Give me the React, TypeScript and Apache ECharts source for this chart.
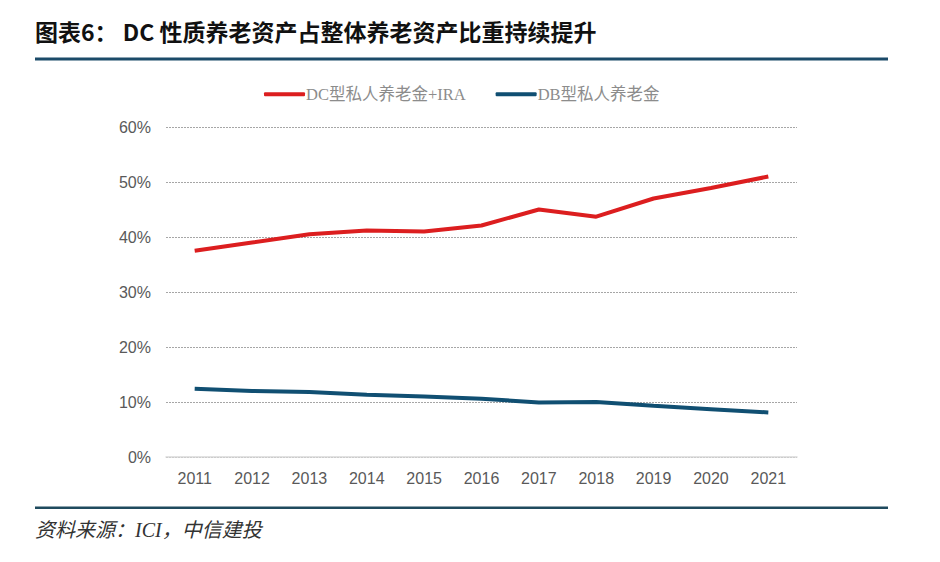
import React, { useEffect, useRef } from "react";
import * as echarts from "echarts";

const years = ["2011", "2012", "2013", "2014", "2015", "2016", "2017", "2018", "2019", "2020", "2021"];
const dcSeriesName = "DC型私人养老金+IRA";
const dbSeriesName = "DB型私人养老金";
const dcValues = [37.5, 39.0, 40.5, 41.2, 41.0, 42.1, 45.0, 43.7, 47.0, 48.9, 51.0];
const dbValues = [12.4, 12.0, 11.8, 11.3, 11.0, 10.6, 9.9, 10.0, 9.3, 8.7, 8.1];
const titleText = "图表6： DC 性质养老资产占整体养老资产比重持续提升";
const sourceText = "资料来源：ICI，中信建投";

export default function App() {
  const ref = useRef<HTMLDivElement>(null);
  useEffect(() => {
    if (!ref.current) return;
    const chart = echarts.init(ref.current, undefined, { renderer: "svg" });
    chart.setOption({
      animation: false,
      backgroundColor: "#ffffff",
      grid: { left: 166, right: 143, top: 127, bottom: 105, containLabel: false },
      legend: {
        left: 259,
        top: 81,
        icon: "roundRect",
        itemWidth: 41,
        itemHeight: 4,
        itemGap: 30,
        textStyle: {
          color: "#8c8c8c",
          fontSize: 16.5,
          fontFamily: "'Liberation Serif', 'Noto Sans CJK SC', serif",
          padding: [0, 0, 0, -4],
        },
        data: [dcSeriesName, dbSeriesName],
      },
      xAxis: {
        type: "category",
        data: years,
        boundaryGap: true,
        axisLine: { show: true, lineStyle: { color: "#d9d9d9", width: 1.5 } },
        axisTick: { show: false },
        axisLabel: {
          color: "#595959",
          fontSize: 16,
          fontFamily: "'Liberation Sans', Arial, sans-serif",
          margin: 13,
        },
      },
      yAxis: {
        type: "value",
        min: 0,
        max: 60,
        interval: 10,
        axisLine: { show: false },
        axisTick: { show: false },
        splitLine: { lineStyle: { color: "#a6a6a6", width: 1, type: [2, 1] } },
        axisLabel: {
          formatter: "{value}%",
          color: "#595959",
          fontSize: 16,
          fontFamily: "'Liberation Sans', Arial, sans-serif",
          margin: 15,
        },
      },
      series: [
        {
          name: dcSeriesName,
          type: "line",
          data: dcValues,
          symbol: "none",
          lineStyle: { color: "#dc1e1f", width: 4 },
          itemStyle: { color: "#dc1e1f" },
        },
        {
          name: dbSeriesName,
          type: "line",
          data: dbValues,
          symbol: "none",
          lineStyle: { color: "#104f72", width: 4 },
          itemStyle: { color: "#104f72" },
        },
      ],
      graphic: [
        {
          type: "text",
          left: 35,
          top: 19,
          style: {
            text: titleText,
            fontSize: 23,
            fontWeight: "bold",
            fontFamily: "'Noto Sans CJK SC', sans-serif",
            fill: "#111111",
          },
        },
        {
          type: "rect",
          shape: { x: 35, y: 57.5, width: 853, height: 3 },
          style: { fill: "#1b4a69" },
        },
        {
          type: "rect",
          shape: { x: 35, y: 506.5, width: 853, height: 2.5 },
          style: { fill: "#1f4a5e" },
        },
        {
          type: "text",
          left: 35,
          top: 520,
          style: {
            text: sourceText,
            fontSize: 20,
            fontStyle: "italic",
            fontFamily: "'Liberation Serif', 'Noto Sans CJK SC', serif",
            fill: "#333333",
          },
        },
      ],
    });
    return () => chart.dispose();
  }, []);
  return (
    <div
      ref={ref}
      style={{ position: "fixed", left: 0, top: 0, width: 940, height: 562 }}
    />
  );
}
